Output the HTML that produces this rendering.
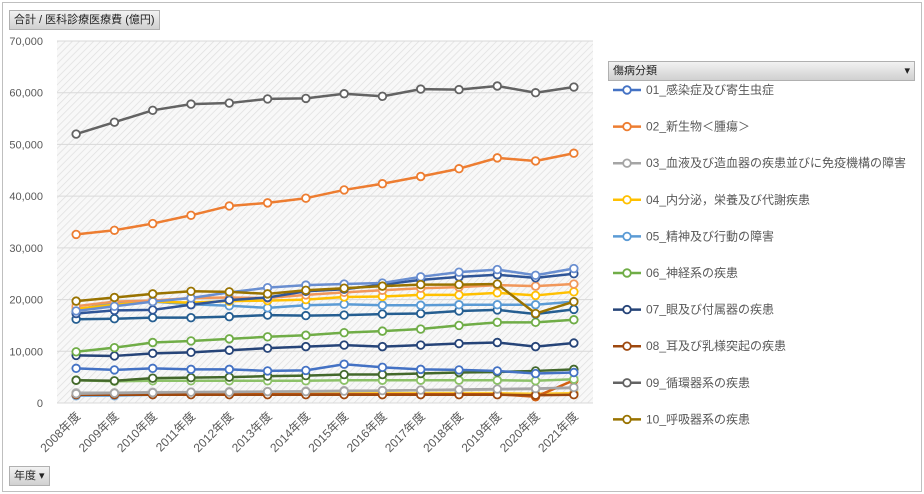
<!DOCTYPE html>
<html><head><meta charset="utf-8">
<style>
body{margin:0;background:#fff;font-family:"Liberation Sans","Noto Sans CJK JP",sans-serif;}
#wrap{position:relative;width:924px;height:494px;overflow:hidden;}
.frame{position:absolute;left:2px;top:2px;width:918px;height:488px;border:1px solid #bfbfbf;}
.btn{position:absolute;background:linear-gradient(#f2f2f2,#d0d0d0);border:1px solid #b0b0b0;font-size:11px;color:#222;padding:2px 4px;line-height:14px;}
</style></head><body>
<div id="wrap">
<div class="frame"></div>
<div class="btn" style="left:9px;top:10px;">合計 / 医科診療医療費 (億円)</div>
<div class="btn" style="left:9px;top:466px;">年度 ▾</div>
<div class="btn" style="left:608px;top:61px;width:297px;">傷病分類<span style="float:right">▾</span></div>
<svg id="svg" width="924" height="494" style="position:absolute;left:0;top:0">
<defs><pattern id="hatch" width="5" height="5" patternUnits="userSpaceOnUse" patternTransform="rotate(45)">
<rect width="5" height="5" fill="#f8f8f8"/><line x1="0" y1="0" x2="0" y2="5" stroke="#dedede" stroke-width="1.4"/></pattern></defs>
</svg>
</div>
<script>
const years=["2008年度","2009年度","2010年度","2011年度","2012年度","2013年度","2014年度","2015年度","2016年度","2017年度","2018年度","2019年度","2020年度","2021年度"];
const yTicks=[0,10000,20000,30000,40000,50000,60000,70000];
const legendNames=["01_感染症及び寄生虫症","02_新生物＜腫瘍＞","03_血液及び造血器の疾患並びに免疫機構の障害","04_内分泌，栄養及び代謝疾患","05_精神及び行動の障害","06_神経系の疾患","07_眼及び付属器の疾患","08_耳及び乳様突起の疾患","09_循環器系の疾患","10_呼吸器系の疾患"];
const colors=["#4472C4","#ED7D31","#A5A5A5","#FFC000","#5B9BD5","#70AD47","#264478","#9E480E","#636363","#997300","#255E91","#43682B","#698ED0","#F1975A","#B7B7B7","#FFCD33","#7CAFDD","#8CC168","#2F5597","#D26012"];
const s01=[6700,6400,6700,6500,6500,6200,6300,7500,6900,6500,6400,6200,5700,5900];
const s02=[32600,33400,34700,36300,38100,38700,39600,41200,42400,43800,45300,47400,46800,48300];
const s03=[1800,1900,2000,2100,2100,2200,2200,2300,2400,2500,2600,2700,2800,3000];
const s04=[18200,19000,19600,19400,19700,19800,20000,20500,20600,20900,20900,21300,20800,21500];
const s05=[18000,19400,19600,19100,18800,18400,18900,19100,18900,18900,19000,19000,19000,19600];
const s06=[9900,10700,11700,12000,12400,12800,13100,13600,13900,14300,15000,15600,15600,16100];
const s07=[9200,9100,9600,9800,10200,10600,10900,11200,10900,11200,11500,11700,10900,11600];
const s08=[1600,1600,1600,1600,1600,1600,1600,1600,1600,1600,1600,1600,1500,1600];
const s09=[52000,54300,56600,57800,58000,58800,58900,59800,59300,60700,60600,61300,60000,61100];
const s10=[19700,20400,21100,21600,21500,21100,21800,22200,22600,22900,22900,23000,17300,19600];
const s11=[16200,16300,16500,16500,16700,17000,16900,17000,17200,17300,17800,18000,17200,18100];
const s12=[4400,4300,4800,4900,5000,5200,5300,5500,5500,5700,5900,6000,6200,6500];
const s13=[17800,18700,19600,20300,21400,22300,22800,23000,23200,24400,25300,25800,24700,26000];
const s14=[18700,19600,19800,20300,20400,20300,20900,21400,21800,22200,22400,22800,22600,23000];
const s15=[2000,2000,2100,2100,2200,2200,2300,2400,2400,2500,2500,2600,2700,2900];
const s16=[1900,1900,1900,1900,1900,1900,1900,1900,1900,1900,1900,1900,1800,1900];
const s17=[1400,1400,1600,1700,1700,1800,1800,1800,1800,1800,1800,1800,1800,1800];
const s18=[4400,4200,4300,4300,4300,4300,4300,4400,4400,4400,4400,4400,4300,4600];
const s19=[17300,17900,18000,19000,19900,20400,21600,22000,22900,23800,24400,24800,24200,25000];
const s20=[1700,1700,1700,1700,1700,1700,1700,1700,1700,1700,1700,1700,1200,4400];
const series=[s01,s02,s03,s04,s05,s06,s07,s08,s09,s10,s11,s12,s13,s14,s15,s16,s17,s18,s19,s20];

const NS="http://www.w3.org/2000/svg";
const svg=document.getElementById('svg');
const L=57,R=593,T=41,B=403,MAX=70000;
const bw=(R-L)/years.length;
const xs=i=>L+bw*(i+0.5);
const ys=v=>B-(v/MAX)*(B-T);
function mk(tag,attrs,parent){const e=document.createElementNS(NS,tag);for(const k in attrs)e.setAttribute(k,attrs[k]);(parent||svg).appendChild(e);return e;}

const bg=mk('rect',{x:L,y:T,width:R-L,height:B-T,fill:'url(#hatch)'});


yTicks.forEach(t=>{
  const g=mk('line',{x1:L,x2:R,y1:ys(t),y2:ys(t),stroke:'#d9d9d9','stroke-width':1});
  
  
  const tx=mk('text',{x:L-14,y:ys(t)+4,'text-anchor':'end','font-size':11,fill:'#595959'});
  tx.textContent=t.toLocaleString('en-US');
  
  
});
years.forEach((y,i)=>{
  const tx=mk('text',{x:0,y:0,'text-anchor':'end','font-size':12,fill:'#595959',transform:`translate(${xs(i)+5},${B+14}) rotate(-45)`});
  tx.textContent=y;
  
  
});
const order=[16,15,14,19,7,2,17,11,0,6,5,10,4,3,13,18,12,9,1,8];
order.forEach(si=>{
  const d=series[si];const c=colors[si];
  const g=mk('g',{});
  
  
  mk('polyline',{points:d.map((v,i)=>xs(i)+','+ys(v)).join(' '),fill:'none',stroke:c,'stroke-width':2.5,'stroke-linejoin':'round'},g);
  d.forEach((v,i)=>{
    const p=mk('circle',{cx:xs(i),cy:ys(v),r:3.8,fill:'#fff',stroke:c,'stroke-width':1.8},g);
    
    
  });
});
legendNames.forEach((n,i)=>{
  const y=90+i*36.6;
  const g=mk('g',{});
  
  
  mk('line',{x1:613,x2:641,y1:y,y2:y,stroke:colors[i],'stroke-width':2.5},g);
  mk('circle',{cx:627,cy:y,r:3.8,fill:'#fff',stroke:colors[i],'stroke-width':1.8},g);
  const t=mk('text',{x:646,y:y+4,'font-size':12,fill:'#595959'},g);
  t.textContent=n;
});
</script>
</body></html>
